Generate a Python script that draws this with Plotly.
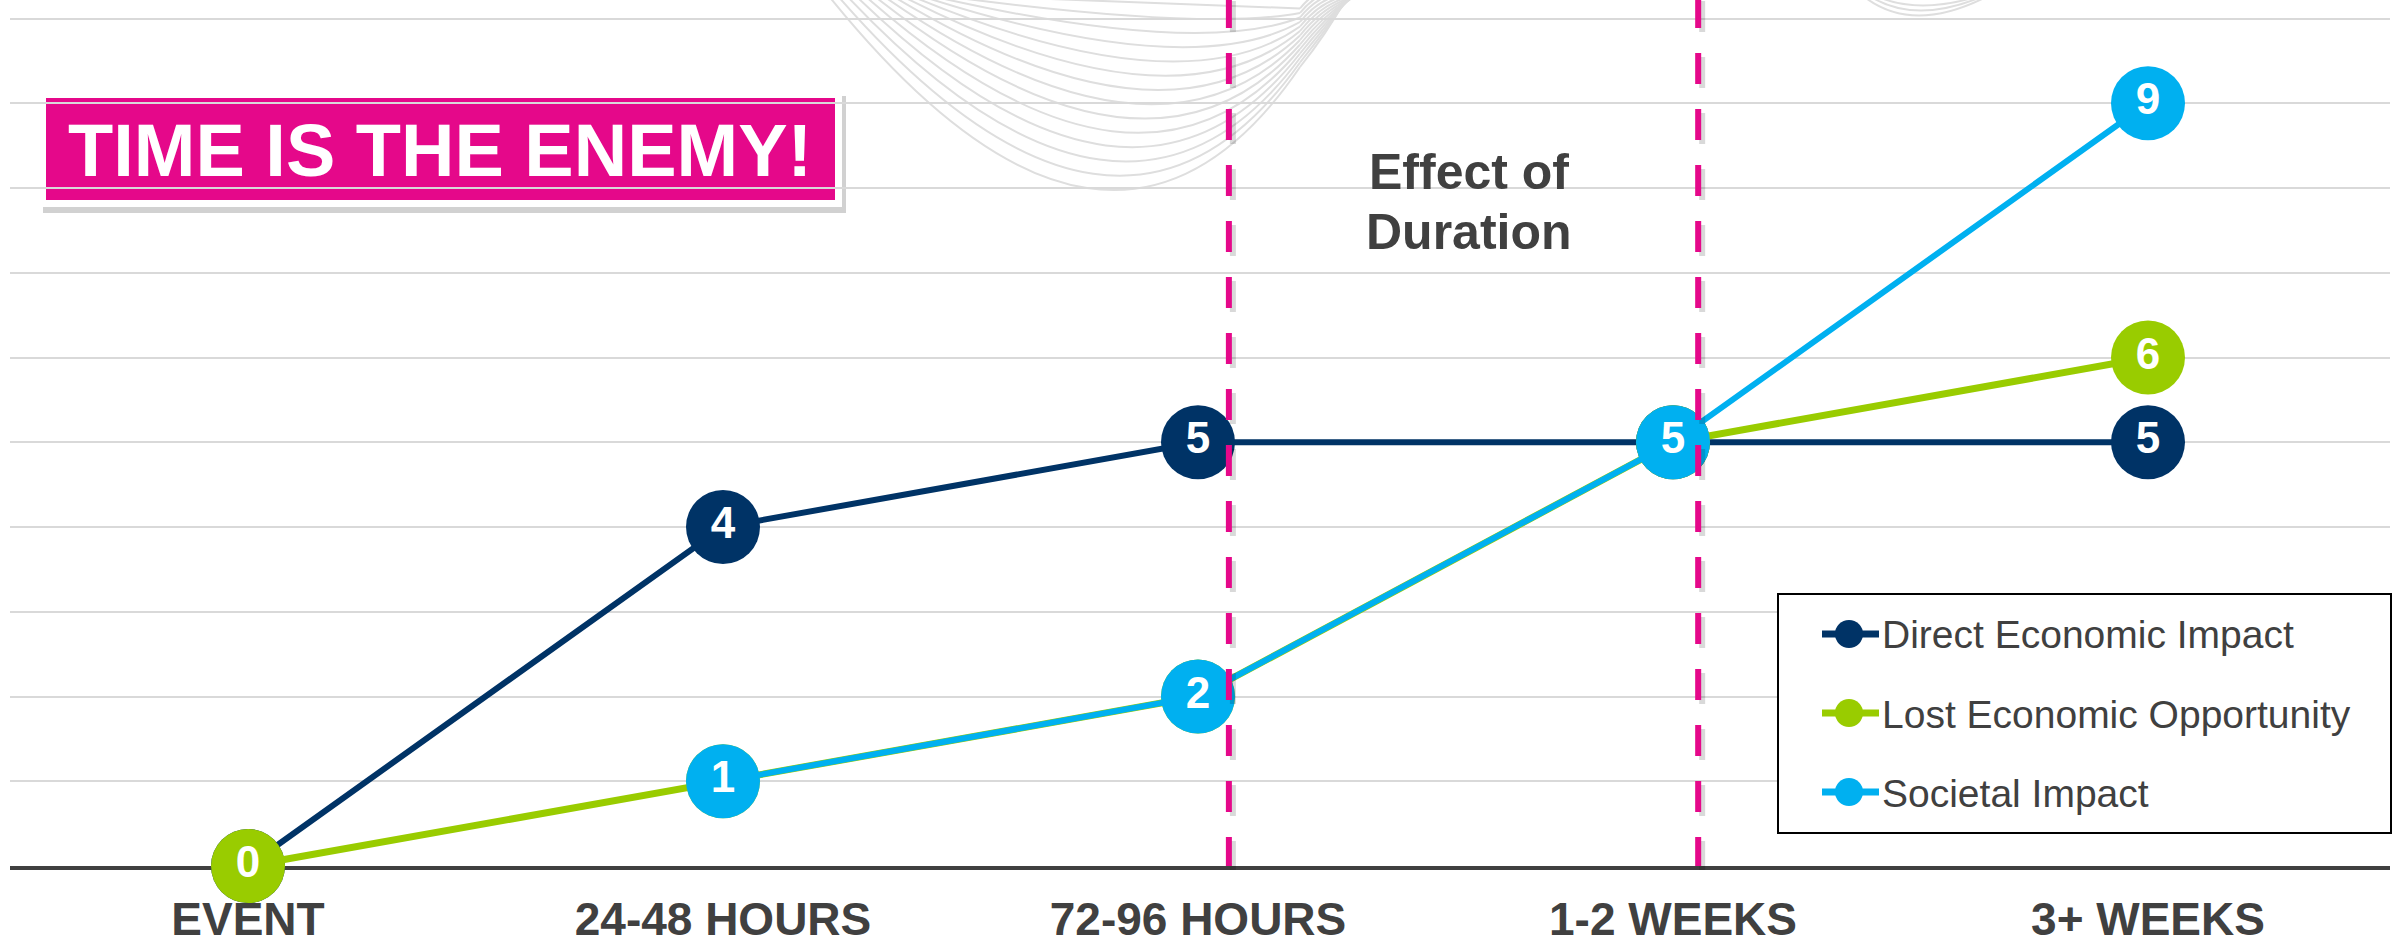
import plotly.graph_objects as go

# ---------------- data ----------------
categories = ["EVENT", "24-48 HOURS", "72-96 HOURS", "1-2 WEEKS", "3+ WEEKS"]
direct_impact = [0, 4, 5, 5, 5]
lost_opportunity = [0, 1, 2, 5, 6]
societal_impact = [None, 1, 2, 5, 9]
series_names = ["Direct Economic Impact", "Lost Economic Opportunity", "Societal Impact"]
divider_positions = [2.065, 3.053]
title_text = "TIME IS THE ENEMY!"
note_lines = ["Effect of", "Duration"]

# ---------------- style ----------------
W, H = 2404, 945
ML, MR, MT, MB = 10, 14, 0, 79
PW, PH = W - ML - MR, H - MT - MB
NAVY, GREEN, BLUE, PINK = "#003366", "#99CC00", "#00B0F0", "#E5088A"
SERIES_COLORS = [NAVY, GREEN, BLUE]
LINE_WIDTHS = [6, 7, 6]
TXT = "#404040"
FONT = "Liberation Sans, Arial, sans-serif"
CAT_STEP = 475.0
X0 = -(248 - ML) / CAT_STEP
X1 = X0 + PW / CAT_STEP
Y_UNIT = 84.75
YTOP = PH / Y_UNIT


def px(x):
    return (x - ML) / PW


def py(y):
    return (MT + PH - y) / PH


def lbl(vals):
    return ["" if v is None else str(v) for v in vals]


fig = go.Figure()
for name, vals, col, lw in zip(series_names, [direct_impact, lost_opportunity, societal_impact],
                               SERIES_COLORS, LINE_WIDTHS):
    fig.add_trace(go.Scatter(
        x=categories, y=vals, name=name, showlegend=False,
        mode="lines+markers+text", text=lbl(vals), textposition="middle center",
        textfont=dict(family=FONT, size=44, color="white", weight="bold"),
        line=dict(color=col, width=lw), marker=dict(color=col, size=74, line=dict(width=0)),
        cliponaxis=False, connectgaps=False,
    ))

shapes = []
# decorative curves (background art)
for i in range(14):
    xs = 828 + 9 * i
    d = 188 - 14.2 * i
    ye = 67 - 4.5 * i
    xe = 1300
    y1 = 2 * d - (-5 + ye) / 2
    x1 = 1110 + 8 * i
    path = "M{},{} Q{},{} {},{}".format(px(xs), py(-5), px(x1), py(y1), px(xe), py(ye))
    path2 = "M{},{} Q{},{} {},{}".format(px(xe), py(ye), px(xe + 28), py(ye - 35), px(xe + 48 + 2 * i), py(-5))
    for p in (path, path2):
        shapes.append(dict(type="path", path=p, xref="paper", yref="paper",
                           line=dict(color="#dedede", width=2), layer="below"))
for i in range(3):
    p = "M{},{} Q{},{} {},{}".format(px(1862 + 6 * i), py(-5), px(1912 + 3 * i), py(36 - 10 * i),
                                     px(1990 - 4 * i), py(-5))
    shapes.append(dict(type="path", path=p, xref="paper", yref="paper",
                       line=dict(color="#dedede", width=2), layer="below"))

# title box
shapes.append(dict(type="rect", xref="paper", yref="paper", x0=px(43), x1=px(846), y0=py(96), y1=py(213),
                   fillcolor="rgba(0,0,0,0.18)", line=dict(width=0), layer="below"))
shapes.append(dict(type="rect", xref="paper", yref="paper", x0=px(39), x1=px(842), y0=py(90), y1=py(207),
                   fillcolor="white", line=dict(width=0), layer="below"))
shapes.append(dict(type="rect", xref="paper", yref="paper", x0=px(46), x1=px(835), y0=py(98), y1=py(200),
                   fillcolor=PINK, line=dict(width=0), layer="below"))
# white box behind note
shapes.append(dict(type="rect", xref="paper", yref="paper", x0=px(1306), x1=px(1629), y0=py(118), y1=py(262),
                   fillcolor="white", line=dict(width=0), layer="below"))

# dashed dividers with shadow
for xv in divider_positions:
    shapes.append(dict(type="line", xref="x", yref="paper", x0=xv + 4 / CAT_STEP, x1=xv + 4 / CAT_STEP,
                       y0=py(1), y1=py(870), line=dict(color="rgba(0,0,0,0.15)", width=6, dash="31px,25px"),
                       layer="above"))
    shapes.append(dict(type="line", xref="x", yref="paper", x0=xv, x1=xv, y0=py(-3), y1=py(866),
                       line=dict(color=PINK, width=6, dash="31px,25px"), layer="above"))

annotations = [
    dict(text="<b>" + title_text + "</b>", xref="paper", yref="paper", x=px(440), y=py(150),
         xanchor="center", yanchor="middle", showarrow=False,
         font=dict(family=FONT, size=74, color="white")),
    dict(text="<b>" + note_lines[0] + "</b>", xref="paper", yref="paper", x=px(1469), y=py(172),
         xanchor="center", yanchor="middle", showarrow=False,
         font=dict(family=FONT, size=50, color=TXT)),
    dict(text="<b>" + note_lines[1] + "</b>", xref="paper", yref="paper", x=px(1469), y=py(232),
         xanchor="center", yanchor="middle", showarrow=False,
         font=dict(family=FONT, size=50, color=TXT)),
]

# legend (box, symbol and label for each series)
LEG_L, LEG_R, LEG_T, LEG_B = 1778, 2391, 594, 833
LEG_ROWS = [634, 713, 792]
shapes.append(dict(type="rect", xref="paper", yref="paper", x0=px(LEG_L), x1=px(LEG_R),
                   y0=py(LEG_T), y1=py(LEG_B), fillcolor="white",
                   line=dict(color="black", width=2), layer="above"))
for name, col, ry in zip(series_names, SERIES_COLORS, LEG_ROWS):
    shapes.append(dict(type="line", xref="paper", yref="paper", x0=px(1822), x1=px(1879),
                       y0=py(ry), y1=py(ry), line=dict(color=col, width=7), layer="above"))
    shapes.append(dict(type="circle", xref="paper", yref="paper", x0=px(1835), x1=px(1863),
                       y0=py(ry - 14), y1=py(ry + 14), fillcolor=col, line=dict(width=0), layer="above"))
    annotations.append(dict(text=name, xref="paper", yref="paper", x=px(1880), y=py(ry + 1),
                            xanchor="left", yanchor="middle", showarrow=False,
                            font=dict(family=FONT, size=39, color=TXT)))

fig.update_layout(
    width=W, height=H, margin=dict(l=ML, r=MR, t=MT, b=MB, pad=0, autoexpand=False),
    paper_bgcolor="white", plot_bgcolor="white",
    shapes=shapes, annotations=annotations,
    showlegend=False,
    xaxis=dict(type="category", categoryorder="array", categoryarray=categories,
               range=[X0, X1], showgrid=False, zeroline=False, layer="below traces",
               showline=True, linecolor=TXT, linewidth=4, ticks="", automargin=False,
               tickfont=dict(family=FONT, size=46, color=TXT, weight="bold"),
               ticklabelstandoff=10),
    yaxis=dict(range=[0, YTOP], dtick=1, tick0=0, showgrid=True, gridcolor="#d9d9d9", gridwidth=2,
               zeroline=False, showticklabels=False, showline=False, ticks="", automargin=False),
)

fig.write_html("out.html", config={"displayModeBar": False},
               post_script="document.body.style.margin='0';")
